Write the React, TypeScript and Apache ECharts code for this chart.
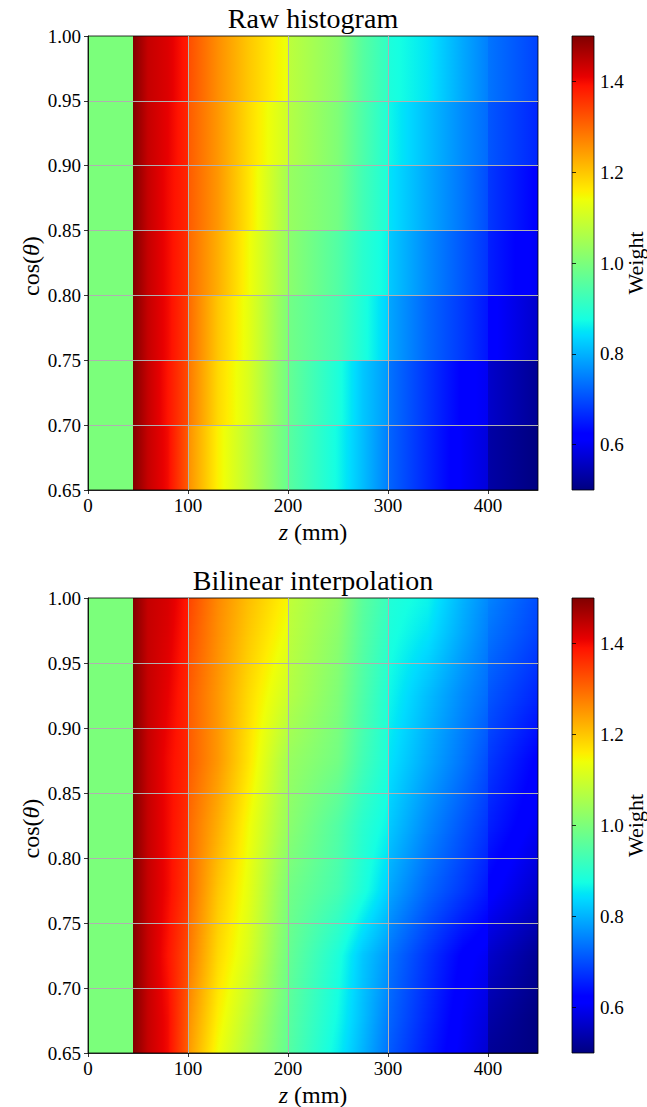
import React, { useEffect, useRef } from "react";
import * as echarts from "echarts";

// ---------- data ----------
// z anchor positions (mm); a repeated position marks a jump in the weight
const Z_ANCHORS = [0, 45, 45, 60, 80, 100, 100, 130, 160, 200, 200, 250, 275, 300, 300, 340, 375, 400, 400, 450];
// cos(theta) bin edges of the raw histogram
const COS_EDGES = [0.65, 0.7, 0.75, 0.8, 0.85, 0.9, 0.95, 1.0];

// raw histogram weights, one list per cos(theta) band, values at Z_ANCHORS
const RAW_065_070 = [1.0, 1.0, 1.5, 1.44, 1.4, 1.315, 1.26, 1.155, 1.08, 0.975, 0.96, 0.87, 0.81, 0.75, 0.725, 0.66, 0.605, 0.58, 0.533, 0.5];
const RAW_070_075 = [1.0, 1.0, 1.5, 1.44, 1.39, 1.33, 1.285, 1.18, 1.115, 0.99, 0.975, 0.885, 0.82, 0.775, 0.74, 0.675, 0.62, 0.6, 0.566, 0.518];
const RAW_075_080 = [1.0, 1.0, 1.5, 1.44, 1.4, 1.35, 1.3, 1.2, 1.13, 1.005, 0.99, 0.935, 0.885, 0.83, 0.79, 0.725, 0.68, 0.645, 0.62, 0.566];
const RAW_080_085 = [1.0, 1.0, 1.5, 1.44, 1.4, 1.36, 1.3, 1.226, 1.145, 1.035, 1.02, 0.95, 0.9, 0.865, 0.825, 0.76, 0.71, 0.675, 0.655, 0.6];
const RAW_085_090 = [1.0, 1.0, 1.5, 1.44, 1.4, 1.37, 1.315, 1.25, 1.17, 1.05, 1.035, 0.99, 0.93, 0.885, 0.85, 0.79, 0.74, 0.7, 0.68, 0.62];
const RAW_090_095 = [1.0, 1.0, 1.5, 1.44, 1.41, 1.37, 1.315, 1.25, 1.18, 1.1, 1.07, 1.005, 0.945, 0.89, 0.87, 0.81, 0.76, 0.73, 0.71, 0.66];
const RAW_095_100 = [1.0, 1.0, 1.5, 1.44, 1.42, 1.38, 1.33, 1.26, 1.2, 1.135, 1.08, 1.02, 0.955, 0.91, 0.885, 0.85, 0.79, 0.75, 0.74, 0.69];
const RAW_BANDS = [RAW_065_070, RAW_070_075, RAW_075_080, RAW_080_085, RAW_085_090, RAW_090_095, RAW_095_100];

// bilinear panel: node rows (band centres) plus the two edge rows
const BILINEAR_EDGE_065 = [1.0, 1.0, 1.5, 1.44, 1.4, 1.31, 1.25, 1.14, 1.065, 0.97, 0.955, 0.86, 0.8, 0.74, 0.715, 0.65, 0.6, 0.57, 0.52, 0.5];
const BILINEAR_EDGE_100 = [1.0, 1.0, 1.5, 1.44, 1.425, 1.385, 1.34, 1.265, 1.21, 1.15, 1.085, 1.03, 0.96, 0.92, 0.89, 0.865, 0.8, 0.76, 0.755, 0.7];
const BILINEAR_ROW_COS = [0.65, 0.675, 0.725, 0.775, 0.825, 0.875, 0.925, 0.975, 1.0];
const BILINEAR_ROWS = [BILINEAR_EDGE_065, ...RAW_BANDS, BILINEAR_EDGE_100];

const Z_TICKS = [0, 100, 200, 300, 400];
const COS_TICKS = [0.65, 0.7, 0.75, 0.8, 0.85, 0.9, 0.95, 1.0];
const WEIGHT_TICKS = [0.6, 0.8, 1.0, 1.2, 1.4];
const WEIGHT_MIN = 0.5;
const WEIGHT_MAX = 1.5;

// ---------- jet colormap ----------
const JET_R: number[][] = [[0, 0], [0.35, 0], [0.66, 1], [0.89, 1], [1, 0.5]];
const JET_G: number[][] = [[0, 0], [0.125, 0], [0.375, 1], [0.64, 1], [0.91, 0], [1, 0]];
const JET_B: number[][] = [[0, 0.5], [0.11, 1], [0.34, 1], [0.65, 0], [1, 0]];
const JET_BREAKS = [0, 0.11, 0.125, 0.34, 0.35, 0.375, 0.64, 0.65, 0.66, 0.89, 0.91, 1];

function pl(p: number[][], t: number) {
  for (let i = 0; i < p.length - 1; i++) {
    if (t <= p[i + 1][0]) {
      const [t0, a] = p[i];
      const [t1, b] = p[i + 1];
      return a + ((b - a) * (t - t0)) / (t1 - t0);
    }
  }
  return p[p.length - 1][1];
}
function jet(v: number) {
  const t = Math.min(1, Math.max(0, (v - WEIGHT_MIN) / (WEIGHT_MAX - WEIGHT_MIN)));
  const r = Math.round(255 * pl(JET_R, t));
  const g = Math.round(255 * pl(JET_G, t));
  const b = Math.round(255 * pl(JET_B, t));
  return `rgb(${r},${g},${b})`;
}
function segStops(v0: number, v1: number, a: number, b: number) {
  const out: { offset: number; color: string }[] = [{ offset: a, color: jet(v0) }];
  if (b > a && v0 !== v1) {
    const inner: { offset: number; color: string }[] = [];
    for (const br of JET_BREAKS) {
      const vb = WEIGHT_MIN + br * (WEIGHT_MAX - WEIGHT_MIN);
      if ((vb - v0) * (vb - v1) < 0) {
        inner.push({ offset: a + ((b - a) * (vb - v0)) / (v1 - v0), color: jet(vb) });
      }
    }
    inner.sort((p, q) => p.offset - q.offset);
    out.push(...inner);
  }
  out.push({ offset: b, color: jet(v1) });
  return out;
}
function rowStops(vals: number[], xs: number[]) {
  const x0 = xs[0];
  const span = xs[xs.length - 1] - x0;
  const all: { offset: number; color: string }[] = [];
  for (let i = 0; i < xs.length - 1; i++) {
    const a = Math.min(1, Math.max(0, (xs[i] - x0) / span));
    const b = Math.min(1, Math.max(0, (xs[i + 1] - x0) / span));
    all.push(...segStops(vals[i], vals[i + 1], a, b));
  }
  return all;
}

const FONT = "'Liberation Serif', 'DejaVu Serif', serif";
const BLACK = "#000";

function rawRender(_params: any, api: any) {
  const k = api.value(2);
  const cLo = COS_EDGES[k];
  const cHi = COS_EDGES[k + 1];
  const pTop = api.coord([Z_ANCHORS[0], cHi]);
  const pBot = api.coord([Z_ANCHORS[Z_ANCHORS.length - 1], cLo]);
  const xs = Z_ANCHORS.map((z) => api.coord([z, cHi])[0]);
  const y0 = Math.round(pTop[1]);
  const y1 = Math.round(pBot[1]);
  return {
    type: "rect",
    shape: { x: pTop[0], y: y0, width: pBot[0] - pTop[0], height: y1 - y0 },
    style: { fill: new echarts.graphic.LinearGradient(0, 0, 1, 0, rowStops(RAW_BANDS[k], xs)) },
  };
}

function bilinearRender(_params: any, api: any) {
  const g = api.value(2);
  const cLo = BILINEAR_ROW_COS[g];
  const cHi = BILINEAR_ROW_COS[g + 1];
  const lo = BILINEAR_ROWS[g];
  const hi = BILINEAR_ROWS[g + 1];
  const pTop = api.coord([Z_ANCHORS[0], cHi]);
  const pBot = api.coord([Z_ANCHORS[Z_ANCHORS.length - 1], cLo]);
  const xs = Z_ANCHORS.map((z) => api.coord([z, cHi])[0]);
  const H = pBot[1] - pTop[1];
  const yStart = Math.round(pTop[1]);
  const yEnd = Math.round(pBot[1]);
  const children: any[] = [];
  for (let y = yStart; y < yEnd; y += 2) {
    const h = Math.min(2, yEnd - y);
    const f = Math.min(1, Math.max(0, (y + h / 2 - pTop[1]) / H));
    const vals = hi.map((v, i) => v * (1 - f) + lo[i] * f);
    children.push({
      type: "rect",
      shape: { x: pTop[0], y, width: pBot[0] - pTop[0], height: h },
      style: { fill: new echarts.graphic.LinearGradient(0, 0, 1, 0, rowStops(vals, xs)) },
    });
  }
  return { type: "group", children };
}

function colorbarRender(_params: any, api: any) {
  const p0 = api.coord([0, WEIGHT_MAX]);
  const p1 = api.coord([1, WEIGHT_MIN]);
  return {
    type: "rect",
    shape: { x: p0[0], y: p0[1], width: p1[0] - p0[0], height: p1[1] - p0[1] },
    style: { fill: new echarts.graphic.LinearGradient(0, 0, 0, 1, segStops(WEIGHT_MAX, WEIGHT_MIN, 0, 1)) },
  };
}

const labelStyle = { color: BLACK, fontSize: 19, fontFamily: FONT };
const tickStyle = { color: BLACK, width: 0.8 };
const gridLine = { color: "#b0b0b0", width: 1 };

function mainX(gi: number) {
  return {
    type: "value",
    gridIndex: gi,
    min: 0,
    max: 450,
    interval: 100,
    axisLine: { show: true, onZero: false, lineStyle: { color: BLACK, width: 0.8 } },
    axisTick: { show: true, length: 4, lineStyle: tickStyle, customValues: Z_TICKS },
    axisLabel: { ...labelStyle, margin: 6, customValues: Z_TICKS, formatter: (v: number) => String(v) },
    splitLine: { show: true, showMinLine: false, showMaxLine: false, lineStyle: gridLine },
  };
}
function mainY(gi: number) {
  return {
    type: "value",
    gridIndex: gi,
    min: 0.65,
    max: 1.0,
    interval: 0.05,
    axisLine: { show: true, onZero: false, lineStyle: { color: BLACK, width: 0.8 } },
    axisTick: { show: true, length: 4, lineStyle: tickStyle, customValues: COS_TICKS },
    axisLabel: { ...labelStyle, margin: 7, customValues: COS_TICKS, formatter: (v: number) => v.toFixed(2) },
    splitLine: { show: true, showMinLine: false, showMaxLine: false, lineStyle: gridLine },
  };
}
function cbX(gi: number) {
  return { type: "value", gridIndex: gi, min: 0, max: 1, show: false };
}
function cbY(gi: number) {
  return {
    type: "value",
    gridIndex: gi,
    min: WEIGHT_MIN,
    max: WEIGHT_MAX,
    position: "right",
    axisLine: { show: false },
    axisTick: { show: true, length: 4, lineStyle: tickStyle, customValues: WEIGHT_TICKS },
    axisLabel: { ...labelStyle, margin: 6, customValues: WEIGHT_TICKS, formatter: (v: number) => v.toFixed(1) },
    splitLine: { show: false },
  };
}

const PANELS = [
  { title: "Raw histogram", top: 36, height: 454 },
  { title: "Bilinear interpolation", top: 598, height: 455 },
];

function textEl(x: number, y: number, text: string, size: number, rotation = 0, rich?: any) {
  return {
    type: "text",
    x,
    y,
    rotation,
    silent: true,
    style: {
      text,
      fontSize: size,
      fontFamily: FONT,
      fill: BLACK,
      align: "center",
      verticalAlign: "middle",
      rich,
    },
  };
}

export default function App() {
  const ref = useRef<HTMLDivElement>(null);
  useEffect(() => {
    if (!ref.current) return;
    const chart = echarts.init(ref.current, undefined, { renderer: "svg" });
    const italic24 = { i: { fontStyle: "italic", fontSize: 24, fontFamily: FONT, fill: BLACK } };
    const graphic: any[] = [];
    PANELS.forEach((p) => {
      const midY = p.top + p.height / 2;
      graphic.push(textEl(313, p.top - 18, p.title, 28));
      graphic.push(textEl(313, p.top + p.height + 42, "{i|z} (mm)", 24, 0, italic24));
      graphic.push(textEl(31, midY + 3, "cos({i|θ})", 24, Math.PI / 2, italic24));
      graphic.push(textEl(635, midY, "Weight", 22, Math.PI / 2));
    });
    chart.setOption({
      animation: false,
      backgroundColor: "#fff",
      grid: [
        { left: 88, top: 36, width: 450, height: 454, show: true, borderColor: BLACK, borderWidth: 0.8, backgroundColor: "transparent" },
        { left: 88, top: 598, width: 450, height: 455, show: true, borderColor: BLACK, borderWidth: 0.8, backgroundColor: "transparent" },
        { left: 572, top: 36, width: 22, height: 454, show: true, borderColor: BLACK, borderWidth: 0.8, backgroundColor: "transparent" },
        { left: 572, top: 598, width: 22, height: 455, show: true, borderColor: BLACK, borderWidth: 0.8, backgroundColor: "transparent" },
      ],
      xAxis: [mainX(0), mainX(1), cbX(2), cbX(3)],
      yAxis: [mainY(0), mainY(1), cbY(2), cbY(3)],
      series: [
        {
          type: "custom",
          xAxisIndex: 0,
          yAxisIndex: 0,
          z: -1,
          silent: true,
          renderItem: rawRender,
          encode: { x: 0, y: 1 },
          data: RAW_BANDS.map((_, k) => [225, (COS_EDGES[k] + COS_EDGES[k + 1]) / 2, k]),
        },
        {
          type: "custom",
          xAxisIndex: 1,
          yAxisIndex: 1,
          z: -1,
          silent: true,
          renderItem: bilinearRender,
          encode: { x: 0, y: 1 },
          data: BILINEAR_ROWS.slice(0, -1).map((_, g) => [225, (BILINEAR_ROW_COS[g] + BILINEAR_ROW_COS[g + 1]) / 2, g]),
        },
        {
          type: "custom",
          xAxisIndex: 2,
          yAxisIndex: 2,
          z: -1,
          silent: true,
          renderItem: colorbarRender,
          encode: { x: 0, y: 1 },
          data: [[0.5, 1.0]],
        },
        {
          type: "custom",
          xAxisIndex: 3,
          yAxisIndex: 3,
          z: -1,
          silent: true,
          renderItem: colorbarRender,
          encode: { x: 0, y: 1 },
          data: [[0.5, 1.0]],
        },
      ],
      graphic,
    });
    return () => chart.dispose();
  }, []);
  return (
    <div
      ref={ref}
      style={{ position: "absolute", left: 0, top: 0, width: 647, height: 1107, background: "#fff" }}
    />
  );
}
